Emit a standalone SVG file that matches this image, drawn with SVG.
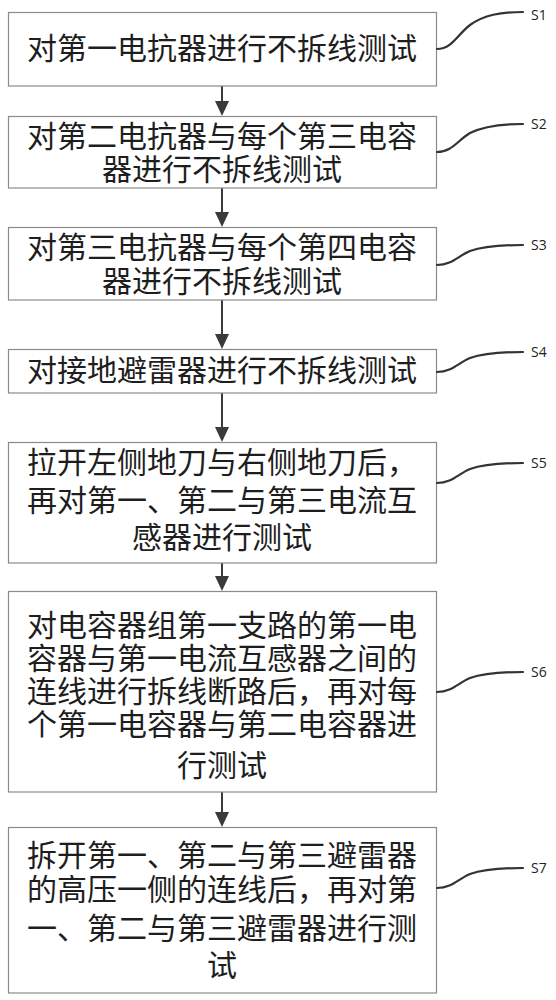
<svg xmlns="http://www.w3.org/2000/svg" width="556" height="1000" viewBox="0 0 556 1000">
<defs>
<style>
.box{fill:#fff;stroke:#8a8a8a;stroke-width:1.2}
.t{font-family:"Noto Sans CJK SC","Noto Sans CJK JP",sans-serif;font-size:30px;fill:#1e1e1e;text-anchor:middle}
.lbl{font-family:"Open Sans","Liberation Sans",sans-serif;font-size:14px;fill:#222}
.sq{fill:none;stroke:#333;stroke-width:2.2;stroke-linecap:round}
.ar{stroke:#3a3a3a;stroke-width:2;fill:none}
.ah{fill:#3a3a3a}
</style>
</defs>
<rect width="556" height="1000" fill="#fff"/>

<g id="connectors">
<line class="ar" x1="222" y1="86" x2="222" y2="101"/>
<path class="ah" d="M215,101 L229,101 L222,116 Z"/>
<line class="ar" x1="222" y1="188" x2="222" y2="212"/>
<path class="ah" d="M215,212 L229,212 L222,227 Z"/>
<line class="ar" x1="222" y1="300" x2="222" y2="334"/>
<path class="ah" d="M215,334 L229,334 L222,349 Z"/>
<line class="ar" x1="222" y1="393" x2="222" y2="427"/>
<path class="ah" d="M215,427 L229,427 L222,442 Z"/>
<line class="ar" x1="222" y1="563" x2="222" y2="576"/>
<path class="ah" d="M215,576 L229,576 L222,591 Z"/>
<line class="ar" x1="222" y1="792" x2="222" y2="812"/>
<path class="ah" d="M215,812 L229,812 L222,827 Z"/>
</g>

<g id="S1">
<rect class="box" x="8.5" y="12.5" width="428" height="73.5"/>
<text class="t" x="222" y="59">对第一电抗器进行不拆线测试</text>
<path class="sq" d="M437,49 C452,49 458,34 470,25 C484,15 500,12 523,12"/>
<text class="lbl" x="531" y="20">S1</text>
</g>

<g id="S2">
<rect class="box" x="8.5" y="116.5" width="428" height="71.5"/>
<text class="t" x="222" y="147"><tspan x="222">对第二电抗器与每个第三电容</tspan><tspan x="222" dy="33">器进行不拆线测试</tspan></text>
<path class="sq" d="M437,152 C452,152 458,140 470,133 C484,126 500,124 523,124"/>
<text class="lbl" x="531" y="129">S2</text>
</g>

<g id="S3">
<rect class="box" x="8.5" y="227.5" width="428" height="72.5"/>
<text class="t" x="222" y="258"><tspan x="222">对第三电抗器与每个第四电容</tspan><tspan x="222" dy="34">器进行不拆线测试</tspan></text>
<path class="sq" d="M437,265 C452,265 458,256 470,251 C484,246 500,245 523,245"/>
<text class="lbl" x="531" y="250">S3</text>
</g>

<g id="S4">
<rect class="box" x="8.5" y="349.5" width="428" height="43.5"/>
<text class="t" x="222" y="381">对接地避雷器进行不拆线测试</text>
<path class="sq" d="M437,372 C452,372 458,363 470,358 C484,353 500,352 523,352"/>
<text class="lbl" x="531" y="357">S4</text>
</g>

<g id="S5">
<rect class="box" x="8.5" y="442.5" width="428" height="120.5"/>
<text class="t" x="222" y="473"><tspan x="222">拉开左侧地刀与右侧地刀后，</tspan><tspan x="222" dy="38">再对第一、第二与第三电流互</tspan><tspan x="222" dy="37">感器进行测试</tspan></text>
<path class="sq" d="M437,483 C452,483 458,474 470,469 C484,464 500,463 523,463"/>
<text class="lbl" x="531" y="468">S5</text>
</g>

<g id="S6">
<rect class="box" x="8.5" y="591.5" width="428" height="200.5"/>
<text class="t" x="222" y="636"><tspan x="222">对电容器组第一支路的第一电</tspan><tspan x="222" dy="33">容器与第一电流互感器之间的</tspan><tspan x="222" dy="33">连线进行拆线断路后，再对每</tspan><tspan x="222" dy="33">个第一电容器与第二电容器进</tspan><tspan x="222" dy="41">行测试</tspan></text>
<path class="sq" d="M437,692 C452,692 458,683 470,678 C484,673 500,672 523,672"/>
<text class="lbl" x="531" y="677">S6</text>
</g>

<g id="S7">
<rect class="box" x="8.5" y="827.5" width="428" height="165.5"/>
<text class="t" x="222" y="866"><tspan x="222">拆开第一、第二与第三避雷器</tspan><tspan x="222" dy="34">的高压一侧的连线后，再对第</tspan><tspan x="222" dy="39">一、第二与第三避雷器进行测</tspan><tspan x="222" dy="37">试</tspan></text>
<path class="sq" d="M437,888 C452,888 458,879 470,874 C484,869 500,868 523,868"/>
<text class="lbl" x="531" y="873">S7</text>
</g>
</svg>
